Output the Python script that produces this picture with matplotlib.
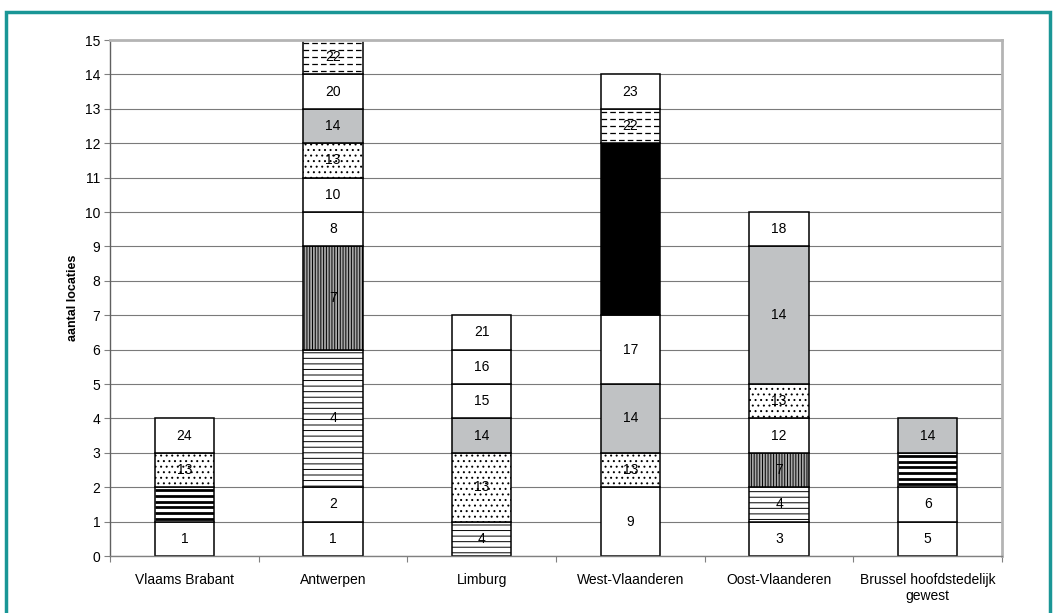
import matplotlib
matplotlib.use("agg")
from matplotlib import pyplot as plt
from matplotlib.patches import Rectangle
import numpy as np

categories = ["Vlaams Brabant", "Antwerpen", "Limburg", "West-Vlaanderen",
              "Oost-Vlaanderen", "Brussel hoofdstedelijk\ngewest"]
# segment codes per province, bottom to top
codes = [
    [1, 11, 13, 24],
    [1, 2, 4, 7, 8, 10, 13, 14, 20, 22],
    [4, 13, 14, 15, 16, 21],
    [9, 13, 14, 17, 19, 22, 23],
    [3, 4, 7, 12, 13, 14, 18],
    [5, 6, 11, 14],
]
# number of locations per segment
counts = [
    [1, 1, 1, 1],
    [1, 1, 4, 3, 1, 1, 1, 1, 1, 1],
    [1, 2, 1, 1, 1, 1],
    [2, 1, 2, 2, 5, 1, 1],
    [1, 1, 1, 1, 1, 4, 1],
    [1, 1, 1, 1],
]
hidden_labels = {11, 19}

# fill style per code
styles = {
    4: dict(facecolor="white", hatch="---"),
    7: dict(facecolor="#a8a8a8", hatch="||||||"),
    13: dict(facecolor="white", hatch="..."),
    14: dict(facecolor="#c0c2c4", hatch=None),
    19: dict(facecolor="black", hatch=None),
}
plt.rcParams["font.family"] = ["Liberation Sans", "DejaVu Sans"]
plt.rcParams["hatch.linewidth"] = 0.7

fig = plt.figure(figsize=(10.57, 6.13), dpi=100)
ax = fig.add_axes([110 / 1057, 1 - 556 / 613, (1002 - 110) / 1057, (556 - 40) / 613])

width = 0.4
for i, (cc, nn) in enumerate(zip(codes, counts)):
    bottom = 0
    for code, n in zip(cc, nn):
        st = styles.get(code, dict(facecolor="white", hatch=None))
        bar = ax.bar(i, n, width, bottom=bottom, color=st["facecolor"], hatch=st["hatch"],
                     edgecolor="black", linewidth=1.1, zorder=2)[0]
        if code == 11:
            # thick black stripes
            ys = np.arange(bottom + 0.08, bottom + n, 0.165)
            ln = ax.hlines(ys, i - width / 2, i + width / 2, color="black", linewidth=2.0, zorder=2.5)
            ln.set_clip_path(bar)
        if code == 22:
            # dashed lines
            ys = np.arange(bottom + 0.1, bottom + n, 0.2)
            ln = ax.hlines(ys, i - width / 2, i + width / 2, color="black", linewidth=0.9,
                           linestyles=(0, (4.5, 2.5)), zorder=2.5)
            ln.set_clip_path(bar)
        if code not in hidden_labels:
            ax.text(i, bottom + n / 2, str(code), ha="center", va="center", fontsize=10, zorder=4)
        bottom += n

ax.set_xlim(-0.5, len(categories) - 0.5)
ax.set_ylim(0, 15)
ax.set_yticks(range(0, 16))
ax.set_xticks(range(len(categories)))
ax.set_xticklabels(categories, fontsize=10)
ax.set_xticks(np.arange(-0.5, len(categories)), minor=True)
ax.tick_params(axis="x", which="major", length=0, pad=12)
ax.tick_params(axis="x", which="minor", length=4, color="#808080", width=0.8)
ax.tick_params(axis="y", length=4, color="#808080", width=0.8, labelsize=10, pad=3)
ax.yaxis.grid(True, color="#7a7a7a", linewidth=0.8, zorder=0)
ax.set_axisbelow(True)
ax.set_ylabel("aantal locaties", fontsize=9, fontweight="bold", labelpad=4)

ax.spines["left"].set_color("#606060")
ax.spines["left"].set_linewidth(1.0)
ax.spines["bottom"].set_color("#808080")
ax.spines["bottom"].set_linewidth(1.0)
for s in ("top", "right"):
    ax.spines[s].set_color("#b4b4b4")
    ax.spines[s].set_linewidth(2.0)

# teal frame round the figure
fig.patches.append(Rectangle((6 / 1057, -0.05), (1050 - 6) / 1057, (613 - 12) / 613 + 0.05,
                             transform=fig.transFigure, fill=False, edgecolor="#1a9696",
                             linewidth=2.5))

fig.savefig("out.png", dpi=100)
